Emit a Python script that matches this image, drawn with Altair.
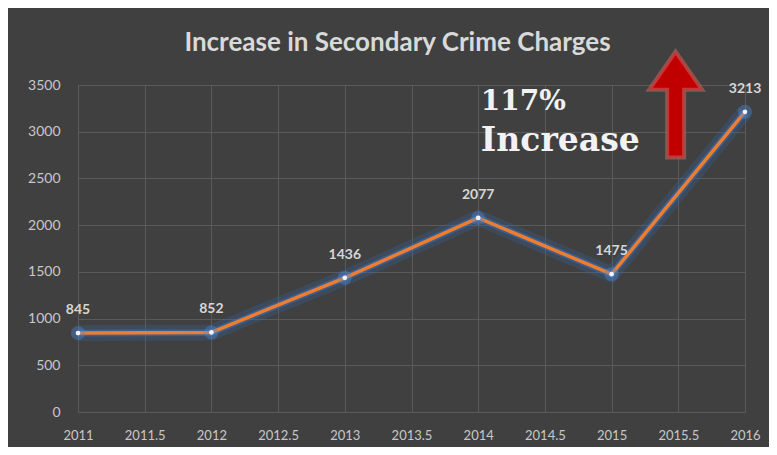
import altair as alt
import pandas as pd

years = [2011, 2012, 2013, 2014, 2015, 2016]
charges = [845, 852, 1436, 2077, 1475, 3213]
x_ticks = [2011, 2011.5, 2012, 2012.5, 2013, 2013.5, 2014, 2014.5, 2015, 2015.5, 2016]
y_ticks = [0, 500, 1000, 1500, 2000, 2500, 3000, 3500]

title_text = "Increase in Secondary Crime Charges"
note_lines = ["117%", "Increase"]
note_x = [2014.02, 2014.02]
note_y = [3320, 2900]
arrow_x = [2015.48]
arrow_y = [3290]

df = pd.DataFrame({"year": years, "charges": charges})
notes = pd.DataFrame({"text": note_lines, "x": note_x, "y": note_y})
arrow = pd.DataFrame({"x": arrow_x, "y": arrow_y})

xs = alt.Scale(domain=[2011, 2016], nice=False, zero=False)
ys = alt.Scale(domain=[0, 3500], nice=False)

xenc = alt.X("year:Q", scale=xs, axis=alt.Axis(
    values=x_ticks, format=".1~f", title=None, domain=False, ticks=False,
    labelPadding=17, labelFontSize=13, labelColor="#c8c8c8", labelFont="Lato",
    gridColor="#5a5a5a", gridWidth=1, labelFlush=False))
yenc = alt.Y("charges:Q", scale=ys, axis=alt.Axis(
    values=y_ticks, format="d", title=None, domain=False, ticks=False,
    labelPadding=18, labelFontSize=14, labelColor="#c8c8c8", labelFont="Lato",
    gridColor="#5a5a5a", gridWidth=1))

base = alt.Chart(df)

glow = base.mark_line(color="#2f68b0", strokeWidth=16, opacity=0.25).encode(x=xenc, y=yenc)
glow2 = base.mark_line(color="#3a78c8", strokeWidth=7, opacity=0.45).encode(x="year:Q", y="charges:Q")
line = base.mark_line(color="#ed7d31", strokeWidth=3.5).encode(x="year:Q", y="charges:Q")
pglow = base.mark_circle(color="#4a8ad8", size=200, opacity=0.4).encode(x="year:Q", y="charges:Q")
pts = base.mark_circle(color="#eef4ff", size=22, opacity=1).encode(x="year:Q", y="charges:Q")
labels = base.mark_text(dy=-23, fontSize=14, fontWeight="bold", color="#d6d6d6", font="Lato").encode(
    x="year:Q", y="charges:Q", text="charges:Q")

arrow_path = "M0,-1 L0.5,-0.28 L0.16,-0.28 L0.16,1 L-0.16,1 L-0.16,-0.28 L-0.5,-0.28 Z"
arr = alt.Chart(arrow).mark_point(shape=arrow_path, size=11236, filled=True, fill="#c00000",
                                  stroke="#d46060", strokeWidth=4, strokeOpacity=0.55, opacity=1).encode(
    x=alt.X("x:Q", scale=xs), y=alt.Y("y:Q", scale=ys))

note_base = alt.Chart(notes).encode(
    x=alt.X("x:Q", scale=xs), y=alt.Y("y:Q", scale=ys), text="text:N")
note1 = note_base.transform_filter(alt.datum.text == note_lines[0]).mark_text(
    align="left", baseline="middle", font="DejaVu Serif", fontWeight="bold", fontSize=28, color="#f2f2f2")
note2 = note_base.transform_filter(alt.datum.text == note_lines[1]).mark_text(
    align="left", baseline="middle", font="DejaVu Serif", fontWeight="bold", fontSize=33, color="#f2f2f2")

chart = alt.layer(glow, glow2, line, pglow, pts, labels, note1, note2, arr).properties(
    width=667, height=327,
    autosize=alt.AutoSizeParams(type="none"),
    padding={"left": 70, "top": 77, "right": 24, "bottom": 35},
    background="#404040",
    title=alt.TitleParams(title_text, font="Lato", fontSize=26, fontWeight="bold",
                          color="#d9d9d9", anchor="middle", dx=-14, offset=-12),
).configure_view(stroke=None)

chart.save("out.html", embed_options={"renderer": "svg", "actions": False})
